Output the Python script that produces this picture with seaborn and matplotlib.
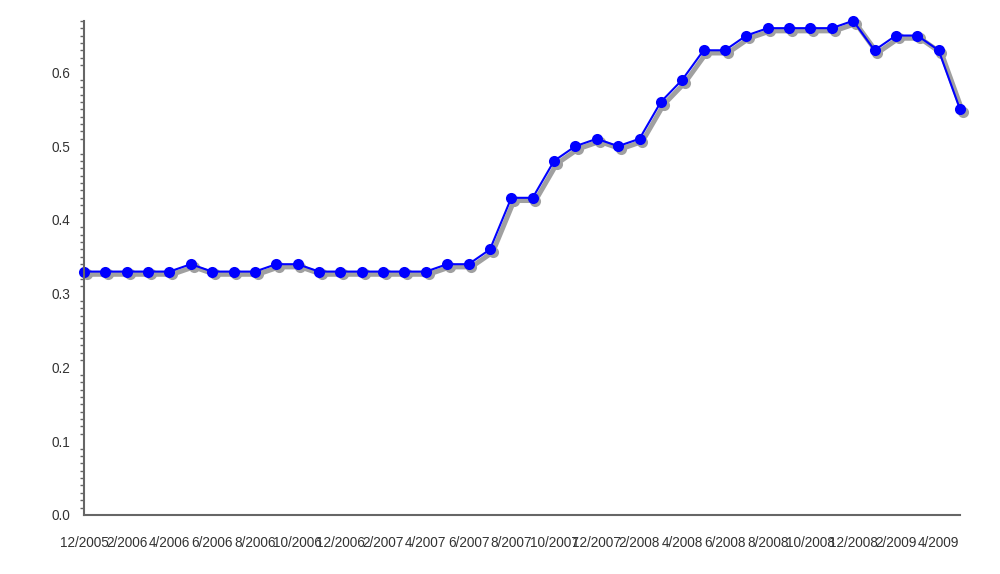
import numpy as np
import pandas as pd
import matplotlib
matplotlib.use("Agg")
import matplotlib.pyplot as plt
import matplotlib.transforms as mtransforms
from matplotlib.ticker import MultipleLocator, FormatStrFormatter
import seaborn as sns

# monthly readings, 12/2005 .. 5/2009
months = [f"{d.month}/{d.year}" for d in pd.date_range("2005-12-01", periods=42, freq="MS")]
values = [0.33, 0.33, 0.33, 0.33, 0.33, 0.34, 0.33, 0.33, 0.33, 0.34,
          0.34, 0.33, 0.33, 0.33, 0.33, 0.33, 0.33, 0.34, 0.34, 0.36,
          0.43, 0.43, 0.48, 0.50, 0.51, 0.50, 0.51, 0.56, 0.59, 0.63,
          0.63, 0.65, 0.66, 0.66, 0.66, 0.66, 0.67, 0.63, 0.65, 0.65,
          0.63, 0.55]

df = pd.DataFrame({"idx": np.arange(len(months)), "month": months, "value": values})

sns.set_style("white")
plt.rcParams["font.family"] = ["Liberation Sans", "DejaVu Sans"]

fig = plt.figure(figsize=(10, 5.74), dpi=100)
ax = fig.add_axes([0.084, 0.1028, 0.876, 0.861])

# drop shadow, shifted down/right
sns.lineplot(data=df, x="idx", y="value", ax=ax, color="#a0a0a0",
             linewidth=3.5, marker="o", markersize=8,
             markeredgewidth=0, clip_on=False)
off = mtransforms.ScaledTranslation(2 / 72, -2 / 72, fig.dpi_scale_trans)
ax.lines[0].set_transform(ax.transData + off)

sns.lineplot(data=df, x="idx", y="value", ax=ax, color="#0000ff",
             linewidth=1.5, marker="o", markersize=8, markeredgewidth=0,
             clip_on=False)

ax.set_xlim(0, len(months) - 1)
ax.set_ylim(0, max(values))
ax.set_xlabel("")
ax.set_ylabel("")

ax.set_xticks(df["idx"][::2])
ax.set_xticklabels(df["month"][::2])
ax.yaxis.set_major_locator(MultipleLocator(0.1))
ax.yaxis.set_minor_locator(MultipleLocator(0.01))
ax.yaxis.set_major_formatter(FormatStrFormatter("%.1f"))

for side in ["top", "right"]:
    ax.spines[side].set_visible(False)
for side in ["left", "bottom"]:
    ax.spines[side].set_color("#666666")
    ax.spines[side].set_linewidth(1.5)

ax.tick_params(axis="x", which="major", direction="out", length=6, width=1,
               color="#666666", labelsize=9.8, labelcolor="#333333", pad=9)
ax.tick_params(axis="y", which="major", direction="out", length=6, width=1,
               color="#666666", labelsize=9.8, labelcolor="#333333", pad=4)
ax.tick_params(axis="y", which="minor", direction="out", length=3, width=1,
               color="#666666", left=True)

fig.savefig("out.png", dpi=100)
